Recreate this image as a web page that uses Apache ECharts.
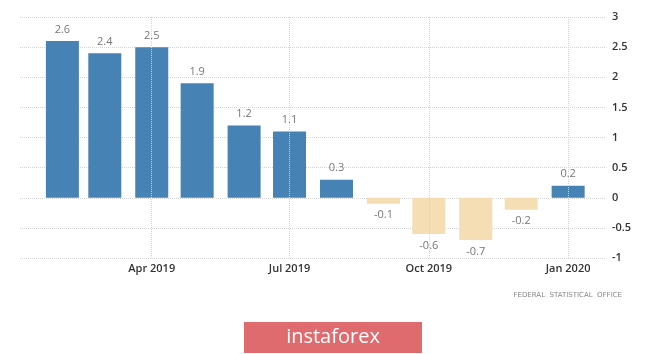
<!DOCTYPE html>
<html><head><meta charset="utf-8">
<script src="https://cdn.jsdelivr.net/npm/echarts@6/dist/echarts.min.js"></script>
<style>html,body{margin:0;padding:0;background:#fff}#c{width:665px;height:354px}</style>
</head><body><div id="c"></div>
<script>
var months = ['2019-02-01','2019-03-01','2019-04-01','2019-05-01','2019-06-01','2019-07-01','2019-08-01','2019-09-01','2019-10-01','2019-11-01','2019-12-01','2020-01-01'];
var values = [2.6, 2.4, 2.5, 1.9, 1.2, 1.1, 0.3, -0.1, -0.6, -0.7, -0.2, 0.2];
var tickDates = ['2019-04-01','2019-07-01','2019-10-01','2020-01-01'];
var tickLabels = ['Apr 2019','Jul 2019','Oct 2019','Jan 2020'];

var DAY = 86400000;
function dn(s){ return Math.round(new Date(s + 'T00:00:00Z').getTime() / DAY); }
var tickDays = tickDates.map(dn);

var chart = echarts.init(document.getElementById('c'), null, {renderer:'canvas'});
chart.setOption({
  animation:false,
  grid:{left:20,right:59,top:17,bottom:96,containLabel:false},
  xAxis:{
    type:'value',
    min: dn('2019-01-04'), max: dn('2020-01-26'),
    axisLine:{show:false},
    axisTick:{show:false},
    axisLabel:{
      customValues: tickDays,
      margin:5, fontSize:11, color:'#333', fontFamily:'Open Sans', fontWeight:600,
      formatter:function(v){ var i = tickDays.indexOf(v); return i>=0 ? tickLabels[i] : ''; }
    },
    splitLine:{show:false}
  },
  yAxis:{
    type:'value', position:'right', min:-1, max:3, interval:0.5,
    axisLine:{show:false}, axisTick:{show:false},
    axisLabel:{margin:6, fontSize:11, color:'#333', fontFamily:'Open Sans', fontWeight:600},
    splitLine:{lineStyle:{type:'dotted', color:'#d4d4d4'}}
  },
  series:[{
    type:'bar',
    barWidth:33,
    data: months.map(function(m,i){
      var v = values[i];
      return {value:[dn(m), v],
        itemStyle:{color: v>=0 ? '#4682b4' : '#f5deb3'},
        label:{position: v>=0 ? 'top' : 'bottom'}};
    }),
    label:{show:true, color:'#777', fontSize:11, fontFamily:'Open Sans', distance:6,
      formatter:function(p){ return String(p.value[1]); }},
    markLine:{
      silent:true, symbol:'none', label:{show:false},
      lineStyle:{type:'dotted', color:'#d4d4d4', width:1},
      data: tickDays.map(function(t){ return {xAxis:t}; })
    }
  }],
  graphic:[
    {type:'text', right:43, top:292, style:{text:'FEDERAL  STATISTICAL  OFFICE', fill:'#888', font:'7px "DejaVu Sans"'}},
    {type:'rect', shape:{x:244,y:322,width:178,height:31}, style:{fill:'#e06b6e'}},
    {type:'text', x:333, y:337.5, style:{text:'instaforex', fill:'#fff', font:'20px "Open Sans"', align:'center', verticalAlign:'middle'}}
  ]
});
</script></body></html>
